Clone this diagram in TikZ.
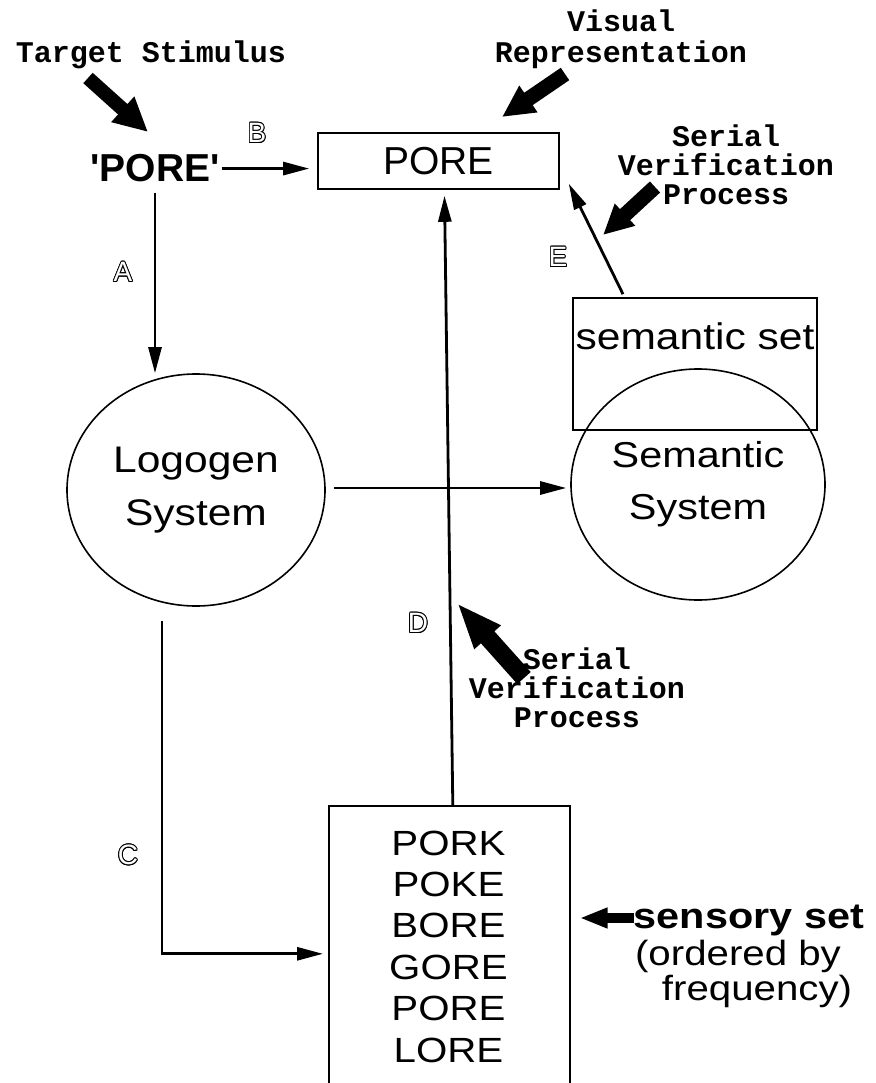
\documentclass[tikz,border=0pt]{standalone}
\usepackage{fontspec}
\setmainfont{Liberation Sans}
\newfontfamily\monofam{Liberation Mono}
\newfontfamily\widefam[FakeStretch=1.15]{Liberation Sans}
\usetikzlibrary{arrows.meta,shapes.geometric,calc}
\tikzset{
  conn/.style={line width=2.8pt, line join=miter, -{Triangle[length=26pt,width=13pt]}},
  fatarrow/.style n args={3}{line width=#1, -{Triangle[length=#2,width=#3]}},
  outline/.style={draw, line width=1.6pt, inner sep=0pt},
  monotext/.style={font=\monofam\bfseries\fontsize{30}{29}\selectfont, inner sep=0pt, align=center},
  lbl/.style={font=\fontsize{28}{28}\selectfont, inner sep=0pt},
}
\newcommand\hollowlabel[3]{%
  \foreach \a in {0,30,...,330}{\node[lbl,text=black] (#1-\a) at ($(#2)+(\a:0.9pt)$) {#3};}
  \node[lbl,text=white] (#1) at (#2) {#3};}
\begin{document}
\begin{tikzpicture}[x=1pt,y=-1pt]
\useasboundingbox (0,0) rectangle (875,1083);

% texts (base anchor = baseline of the last line)
\node[monotext, anchor=base] (tgt) at (151,63) {Target Stimulus};
\node[monotext, anchor=base, font=\monofam\bfseries\fontsize{30}{31}\selectfont] (visrep) at (621,63) {Visual\\Representation};
\node[monotext, anchor=base] (svp1) at (726,205) {Serial\\Verification\\Process};
\node[monotext, anchor=base] (svp2) at (577,727) {Serial\\Verification\\Process};

\node[font=\bfseries\fontsize{39}{39}\selectfont, inner sep=2pt, anchor=base] (stim) at (155,182) {\textquotesingle PORE\textquotesingle};
\node[outline, minimum width=241pt, minimum height=56pt, font=\fontsize{39}{39}\selectfont] (porebox) at (438.5,161) {PORE};

\node[outline, ellipse, minimum width=258pt, minimum height=232pt, align=center, font=\widefam\fontsize{37}{53}\selectfont] (logogen) at (196,490) {Logogen\\System};
\node[outline, ellipse, minimum width=254pt, minimum height=231pt, align=center, font=\widefam\fontsize{36}{52}\selectfont] (semsys) at (698,484.5) {Semantic\\System};
\node[outline, minimum width=244pt, minimum height=132pt] (semset) at (695,364) {};
\node[font=\widefam\fontsize{37}{37}\selectfont, inner sep=0pt] (semtxt) at (695,336) {semantic set};

\node[outline, minimum width=241pt, minimum height=296pt, anchor=north west] (listbox) at (328,805) {};
\node[align=center, font=\widefam\fontsize{35}{41.4}\selectfont, inner sep=0pt] (words) at (448.5,946.5) {PORK\\POKE\\BORE\\GORE\\PORE\\LORE};

\node[anchor=base, font=\widefam\bfseries\fontsize{36}{36}\selectfont, inner sep=1pt] (sens) at (749,928) {sensory set};
\node[anchor=base, font=\widefam\fontsize{35}{35}\selectfont, inner sep=0pt] (ord) at (738,965) {(ordered by};
\node[anchor=base, font=\widefam\fontsize{35}{35}\selectfont, inner sep=0pt] (freq) at (757,1000) {frequency)};

% connectors
\draw[conn] ($(stim.south)+(0,8)$) -- (stim.south |- logogen.north);
\draw[conn, shorten >=8pt] (stim.east) -- (stim.east -| porebox.west);
\draw[conn] ($(semset.north)+(-72,-3)$) -- ($(porebox.south east)+(9,-6)$);
\draw[conn] ($(logogen.east)+(8,-2)$) -- ($(semsys.west)+(-4,3.5)$);
\draw[conn] ($(listbox.north)+(3.5,0)$) -- ($(porebox.south)+(6,6)$);
\draw[conn] ($(logogen.south)+(-34,14)$) |- ([xshift=-5pt]listbox.west);

% fat arrows
\coordinate (f1a) at (88,78);   \coordinate (f1b) at (148,132);
\coordinate (f2a) at (565,74);  \coordinate (f2b) at (502,117);
\coordinate (f3a) at (655,187); \coordinate (f3b) at (603,235);
\coordinate (f4a) at (524,678); \coordinate (f4b) at (457,603);
\coordinate (f5a) at ($(sens.west)+(1,-2)$);
\coordinate (f5b) at (f5a -| listbox.east);
\draw[fatarrow={14pt}{34pt}{32pt}] (f1a) -- (f1b);
\draw[fatarrow={15pt}{32pt}{30pt}] (f2a) -- (f2b);
\draw[fatarrow={15pt}{30pt}{28pt}] (f3a) -- (f3b);
\draw[fatarrow={18pt}{46pt}{32pt}] (f4a) -- (f4b);
\draw[fatarrow={10pt}{28pt}{19pt}, shorten >=9pt] (f5a) -- (f5b);

% hollow letter labels
\hollowlabel{lA}{123,272}{A}
\hollowlabel{lB}{257,133}{B}
\hollowlabel{lC}{128,855}{C}
\hollowlabel{lD}{418,623}{D}
\hollowlabel{lE}{558,257}{E}
\end{tikzpicture}
\end{document}
